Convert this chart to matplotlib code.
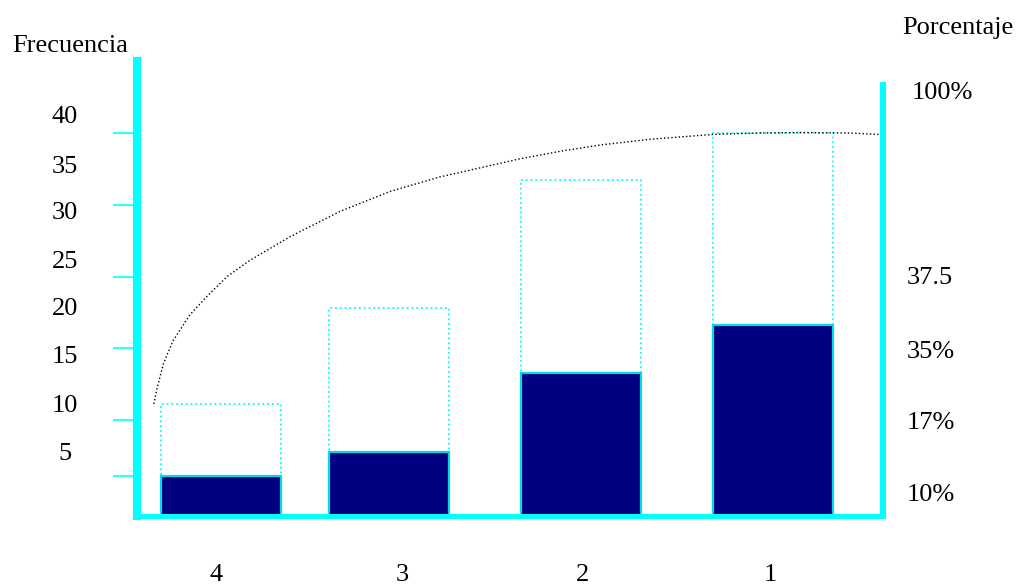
import numpy as np
import matplotlib.pyplot as plt
from matplotlib.transforms import blended_transform_factory

plt.rcParams['font.family'] = ['Liberation Serif', 'DejaVu Serif']

categories = ['4', '3', '2', '1']
xpos = [0.70, 2.10, 3.70, 5.30]  # bar centres (bar width = 1)
label_x = [0.66, 2.21, 3.71, 5.28]  # category labels are not quite under the bars
freq = [4.2, 6.7, 14.9, 20.0]  # filled bars
cum = [11.7, 21.7, 35.1, 40.0]  # dotted outline bars

tick_vals = [4.2, 10, 17.5, 25, 32.5, 40]
left_labels = ['40', '35', '30', '25', '20', '15', '10', '5']
left_label_y = [41.7, 36.5, 31.6, 26.5, 21.6, 16.6, 11.5, 6.5]
right_labels = ['100%', '37.5', '35%', '17%', '10%']
right_label_y = [44.2, 24.9, 17.1, 9.7, 2.2]

# curve
curve_x = [0.14, 0.17, 0.22, 0.30, 0.44, 0.58, 0.75, 0.94, 1.28, 1.69, 2.11, 2.52,
           3.19, 3.53, 3.86, 4.28, 4.80, 5.19, 5.53, 5.94, 6.26]
curve_y = [11.7, 13.5, 15.9, 18.3, 21.0, 22.9, 25.0, 26.7, 29.2, 31.8, 33.9, 35.4,
           37.3, 38.1, 38.75, 39.35, 39.85, 40.0, 40.05, 40.0, 39.8]

cyan = '#00ffff'
navy = '#000080'

fig = plt.figure(figsize=(10.25, 5.87), dpi=100)
ax = fig.add_axes([137/1025, 71/587, 746/1025, 455/587])
ax.set_xlim(0, 746/120)
ax.set_ylim(0, 455/9.575)

ax.bar(xpos, cum, width=1.0, facecolor='none', edgecolor=cyan, linestyle=':', linewidth=1.3, zorder=2)
ax.bar(xpos, freq, width=1.0, facecolor=navy, edgecolor='#00d8f0', linewidth=1.6, zorder=3)
ax.plot(curve_x, curve_y, color='black', linestyle=':', linewidth=1.0, zorder=4, clip_on=False)

ax.spines['top'].set_visible(False)
ax.spines['left'].set_color(cyan)
ax.spines['left'].set_linewidth(5.8)
ax.spines['bottom'].set_color(cyan)
ax.spines['bottom'].set_linewidth(3.6)
ax.spines['right'].set_color(cyan)
ax.spines['right'].set_linewidth(4.3)
ax.spines['right'].set_bounds(0, 45.0)
for s in ax.spines.values():
    s.set_zorder(5)

ax.set_yticks(tick_vals)
ax.set_yticklabels([])
ax.tick_params(axis='y', direction='out', length=17, width=1.2, color=cyan, left=True, right=False)
ax.set_xticks([])

fs = 19
tr_left = blended_transform_factory(fig.transFigure, ax.transData)
for lab, y in zip(left_labels, left_label_y):
    ax.text(65/1025, y, lab, transform=tr_left, ha='center', va='center', fontsize=fs)
for lab, y in zip(right_labels, right_label_y):
    x0 = 912/1025 if lab == '100%' else 907/1025
    ax.text(x0, y, lab, transform=tr_left, ha='left', va='center', fontsize=fs)

tr_bot = blended_transform_factory(ax.transData, fig.transFigure)
for lab, x in zip(categories, label_x):
    ax.text(x, 1 - 575/587, lab, transform=tr_bot, ha='center', va='center', fontsize=fs)

fig.text(12/1025, 1 - 46/587, 'Frecuencia', ha='left', va='center', fontsize=fs)
fig.text(902/1025, 1 - 28/587, 'Porcentaje', ha='left', va='center', fontsize=fs)

plt.savefig('out.png', dpi=100)
